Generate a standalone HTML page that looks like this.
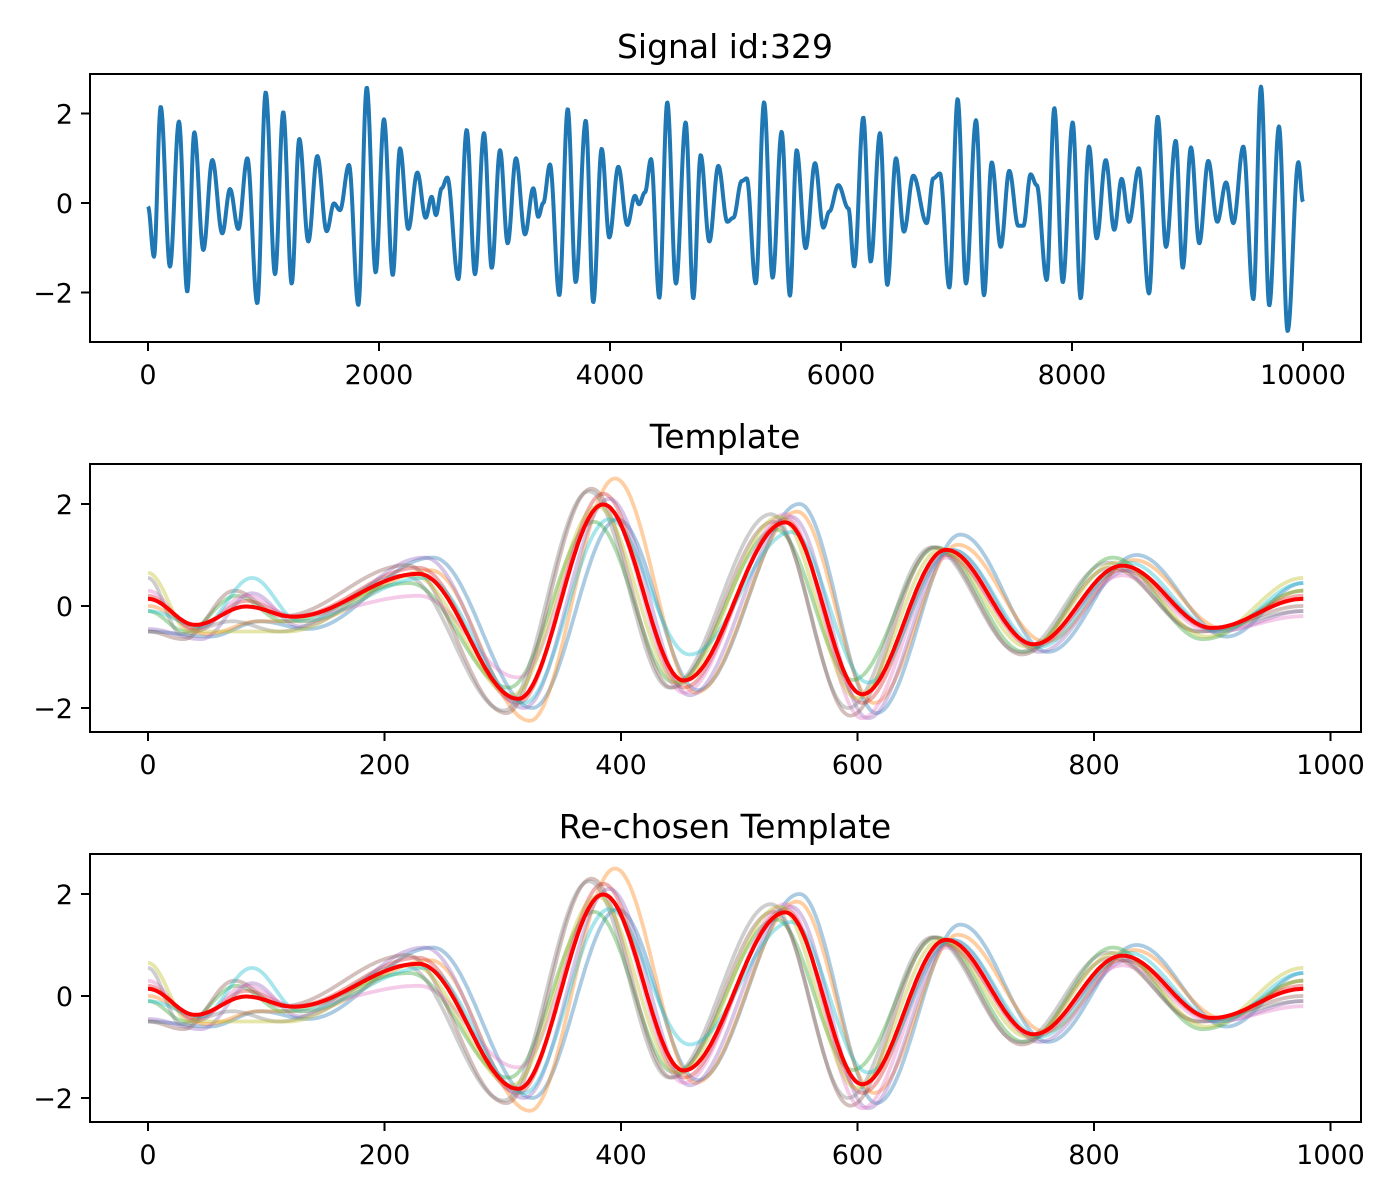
<!DOCTYPE html>
<html><head><meta charset="utf-8"><style>
html,body{margin:0;padding:0;background:#fff}
svg{display:block}
text{font-family:"DejaVu Sans","Liberation Sans",sans-serif;fill:#000}
</style></head><body>
<svg id="fig" width="1400" height="1200" viewBox="0 0 1400 1200"></svg>
<script>
// ---- Signal data (extrema positions and values) ----
const sigX = [0,52,110,190,268,340,401,479,557,643,710,782,860,946,1019,1100,1171,1244,1310,1388,1466,1547,1610,1662,1740,1821,1894,1971,2043,2119,2182,2254,2332,2404,2456,2493,2543,2591,2687,2759,2831,2909,2976,3048,3114,3186,3264,3336,3379,3422,3480,3561,3634,3703,3790,3855,3928,3994,4072,4150,4216,4251,4303,4355,4427,4496,4571,4655,4721,4785,4860,4938,5016,5068,5140,5184,5262,5334,5408,5486,5558,5616,5694,5775,5847,5899,5977,6064,6115,6193,6257,6338,6401,6476,6545,6626,6742,6799,6857,6938,7010,7082,7169,7238,7305,7383,7457,7535,7579,7642,7694,7781,7847,7920,8006,8075,8147,8214,8292,8366,8430,8494,8578,8667,8742,8814,8898,8959,9030,9102,9180,9258,9334,9397,9483,9570,9636,9708,9792,9867,9960,10000];
const sigY = [-0.08,-1.2,2.15,-1.42,1.82,-1.98,1.58,-1.05,0.96,-0.68,0.31,-0.58,1.0,-2.24,2.47,-1.59,2.03,-1.8,1.43,-0.86,1.05,-0.63,-0.01,-0.16,0.85,-2.28,2.58,-1.55,1.87,-1.61,1.22,-0.58,0.68,-0.33,0.14,-0.27,0.33,0.57,-1.7,1.63,-1.59,1.56,-1.45,1.18,-0.9,1.0,-0.7,0.33,-0.31,0.0,0.86,-2.06,2.1,-1.77,1.84,-2.22,1.21,-0.77,0.81,-0.49,0.16,-0.03,0.24,0.98,-2.12,2.25,-1.8,1.8,-2.13,1.07,-0.86,0.83,-0.42,-0.33,0.49,0.55,-1.8,2.25,-1.67,1.59,-2.07,1.18,-1.01,0.89,-0.55,-0.19,0.4,-0.12,-1.42,1.91,-1.31,1.56,-1.83,1.0,-0.64,0.61,-0.45,0.55,0.66,-1.89,2.32,-1.8,1.85,-2.06,0.91,-0.98,0.72,-0.51,-0.51,0.64,0.4,-1.72,2.12,-1.77,1.8,-2.13,1.26,-0.79,0.96,-0.6,0.54,-0.42,0.78,-2.02,1.93,-0.98,1.39,-1.45,1.24,-0.9,0.94,-0.42,0.46,-0.45,1.26,-2.15,2.6,-2.29,1.71,-2.86,0.91,0.03];
// ---- Template data ----
const tplX = [0,40,83,123,229,313,385,453,539,604,675,749,824,900,977];
const tplMean = [0.14,-0.37,-0.01,-0.21,0.63,-1.82,1.99,-1.46,1.64,-1.73,1.1,-0.75,0.79,-0.43,0.14];
const tplShift = [12,10,-8,0,5,-10,0,-12,-5,5];
const tplColors = ["#1f77b4","#ff7f0e","#2ca02c","#d62728","#9467bd","#8c564b","#e377c2","#7f7f7f","#bcbd22","#17becf"];
const memberBlue  = [-0.5,-0.6,-0.3,-0.45,0.95,-2.0,1.7,-1.65,2.0,-2.1,1.4,-0.9,1.0,-0.6,0.45];
const memberOrange= [0.0,-0.55,-0.3,-0.3,0.7,-2.25,2.5,-1.7,1.85,-1.9,1.2,-0.7,0.9,-0.45,0.3];
const memberGreen = [-0.1,-0.5,0.2,-0.3,0.45,-1.6,1.65,-1.5,1.5,-1.45,1.15,-0.9,0.95,-0.65,0.3];
const memberRed   = [0.2,-0.45,0.1,-0.2,0.75,-1.9,2.2,-1.6,1.7,-1.9,1.0,-0.8,0.7,-0.45,0.2];
const memberPurple= [-0.45,-0.65,0.25,-0.4,0.95,-2.0,2.1,-1.75,1.75,-2.2,1.1,-0.9,0.7,-0.5,-0.1];
const memberBrown = [-0.5,-0.65,0.3,-0.2,0.8,-2.1,2.3,-1.6,1.65,-2.15,1.15,-0.95,0.75,-0.5,0.0];
const memberPink  = [0.3,-0.5,0.2,-0.2,0.2,-1.4,2.0,-1.7,1.8,-2.2,0.95,-0.75,0.6,-0.5,-0.2];
const memberGray  = [0.55,-0.55,-0.3,-0.5,0.6,-2.05,2.25,-1.6,1.8,-2.0,1.15,-0.9,0.85,-0.5,-0.1];
const memberOlive = [0.65,-0.5,-0.5,-0.5,0.6,-1.75,1.95,-1.5,1.75,-1.8,1.1,-0.8,0.85,-0.6,0.55];
const memberCyan  = [-0.1,-0.4,0.55,-0.3,0.55,-1.9,1.7,-0.95,1.45,-1.5,1.1,-0.8,0.85,-0.5,0.45];
const members = [memberBlue,memberOrange,memberGreen,memberRed,memberPurple,memberBrown,memberPink,memberGray,memberOlive,memberCyan];
const sigTicks = [0,2000,4000,6000,8000,10000];
const tplTicks = [0,200,400,600,800,1000];
const yTicks = [-2,0,2];

const NS = "http://www.w3.org/2000/svg";
const svg = document.getElementById("fig");
function mk(tag, attrs, parent){ const e=document.createElementNS(NS,tag); for(const k in attrs) e.setAttribute(k,attrs[k]); (parent||svg).appendChild(e); return e; }
function fmt(v){ return v<0 ? "\u2212"+Math.abs(v) : String(v); }

function interp(xs, ys, x){
  if(x<=xs[0]) return ys[0];
  for(let i=0;i<xs.length-1;i++){
    if(x<=xs[i+1]){ const t=(x-xs[i])/(xs[i+1]-xs[i]); return ys[i]+(ys[i+1]-ys[i])*(1-Math.cos(Math.PI*t))/2; }
  }
  return ys[ys.length-1];
}

function makeAxes(name, top, title, xTicksArr, sx, sy){
  const g = mk("g",{});
  
  
  const t = mk("text",{x:725,y:top-16,"text-anchor":"middle","font-size":"33"},g);
  t.textContent = title;
  
  
  xTicksArr.forEach(v=>{
    const x=sx(v);
    const l = mk("line",{x1:x,x2:x,y1:top+268,y2:top+277,stroke:"#000","stroke-width":2},g);
    
    
    const tt = mk("text",{x:x,y:top+310,"text-anchor":"middle","font-size":"27"},g);
    tt.textContent = fmt(v);
    
    
  });
  yTicks.forEach(v=>{
    const y=sy(v);
    const l = mk("line",{x1:81,x2:90,y1:y,y2:y,stroke:"#000","stroke-width":2},g);
    
    
    const tt = mk("text",{x:73,y:y+10,"text-anchor":"end","font-size":"27"},g);
    tt.textContent = fmt(v);
    
    
  });
  return g;
}
function frame(g, top){
  const r = mk("rect",{x:90,y:top,width:1271,height:268,fill:"none",stroke:"#000","stroke-width":2},g);
  
  
}

// ---- Signal axes ----
const sx1 = d=>148+0.1155*d, sy1 = v=>203-44.75*v;
const g1 = makeAxes("signal-axes", 74, "Signal id:329", sigTicks, sx1, sy1);
{
  let d="";
  for(let px=0; px<=1155; px+=0.5){
    const x=px/0.1155; const y=interp(sigX,sigY,x);
    d += (px===0?"M":"L")+sx1(x).toFixed(1)+","+sy1(y).toFixed(1);
  }
  const p = mk("path",{d:d,fill:"none",stroke:"#1f77b4","stroke-width":4,"stroke-linejoin":"round"},g1);
  
  
}
frame(g1,74);

function templateAxes(name, top, title){
  const sx = d=>148+1.1825*d, sy = v=>(top+142)-51*v;
  const g = makeAxes(name, top, title, tplTicks, sx, sy);
  function draw(ys, shift, color, op, w, nm){
    const xs = tplX.map((x,i)=> (i===0||i===tplX.length-1)? x : x+shift);
    let d="";
    for(let x=0; x<=977; x+=1){
      const y=interp(xs,ys,x);
      d += (x===0?"M":"L")+sx(x).toFixed(1)+","+sy(y).toFixed(1);
    }
    const p = mk("path",{d:d,fill:"none",stroke:color,"stroke-opacity":op,"stroke-width":w,"stroke-linejoin":"round"},g);
    
    
  }
  members.forEach((m,i)=>draw(m, tplShift[i], tplColors[i], 0.38, 3.8, 'member-line'));
  draw(tplMean, 0, "#ff0000", 1, 4, 'mean-template-line');
  frame(g, top);
}
templateAxes("template-axes", 464, "Template");
templateAxes("rechosen-template-axes", 854, "Re-chosen Template");
</script>
</body></html>
